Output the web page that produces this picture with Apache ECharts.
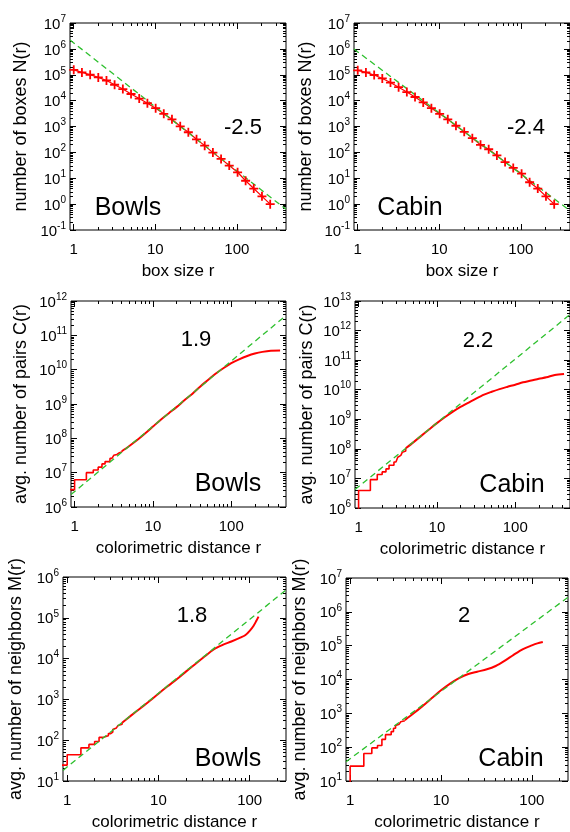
<!DOCTYPE html>
<html>
<head>
<meta charset="utf-8">
<script src="https://cdn.jsdelivr.net/npm/echarts@6/dist/echarts.min.js"></script>
<style>
  html, body { margin: 0; padding: 0; background: #fff; }
  #chart { width: 570px; height: 832px; }
</style>
</head>
<body>
<div id="chart"></div>
<script>
// ---- top row: box counting, box sizes r = 2^(k/3) ----
const boxSize = [1, 1.26, 1.59, 2, 2.52, 3.17, 4, 5.04, 6.35, 8, 10.1, 12.7, 16, 20.2, 25.4, 32, 40.3, 50.8, 64, 80.6, 102, 128, 161, 203, 256];
const boxesBowls = [155000, 123000, 100000, 79000, 60000, 41000, 28000, 18000, 12000, 7900, 5100, 3100, 1900, 1020, 600, 320, 182, 98, 56, 31, 17, 8, 4, 2, 1];
const boxesCabin = [148000, 123000, 98000, 72000, 50000, 33000, 21400, 13800, 8500, 5100, 3100, 1900, 1070, 620, 355, 195, 132, 76, 42, 25, 15, 7, 4, 2, 1];
const boxFitR = [0.9, 400];
const boxFitBowls = [2.2e6, 0.63];
const boxFitCabin = [9.8e5, 0.56];

// ---- small distances: counts jump at r = sqrt(n); first entry is r = 0, drawn off-axis ----
const stepR = [0.5, 1, 1.414, 1.732, 2, 2.236, 2.449, 2.828, 3, 3.162, 3.317, 3.464, 3.606, 3.742, 4];

// ---- middle row: pair correlation C(r) ----
const pairR = [4, 5, 6.3, 8, 10, 12.6, 16, 20, 25, 32, 40, 50, 63, 80, 100, 126, 160, 200, 250, 320, 420];
const pairStepBowls = [3.2e6, 6.2e6, 1.0e7, 1.2e7, 1.45e7, 1.8e7, 2.1e7, 2.6e7, 2.9e7, 3.2e7, 3.4e7, 3.6e7, 3.8e7, 4.0e7, 4.2e7];
const pairBowls = [4.2e7, 6.0e7, 8.9e7, 1.4e8, 2.2e8, 3.5e8, 5.4e8, 8.1e8, 1.26e9, 2.0e9, 3.2e9, 4.9e9, 7.6e9, 1.12e10, 1.55e10, 2.0e10, 2.5e10, 2.95e10, 3.3e10, 3.55e10, 3.6e10];
const pairStepCabin = [5e5, 3.9e6, 9.1e6, 1.35e7, 1.66e7, 2.1e7, 2.8e7, 3.6e7, 4.2e7, 5.2e7, 6.0e7, 6.9e7, 7.6e7, 8.5e7, 1.05e8];
const pairCabin = [1.05e8, 1.66e8, 2.75e8, 4.6e8, 7.4e8, 1.17e9, 1.82e9, 2.63e9, 3.6e9, 5.1e9, 6.8e9, 8.5e9, 1.05e10, 1.26e10, 1.48e10, 1.78e10, 2.04e10, 2.34e10, 2.63e10, 3.16e10, 3.4e10];
const pairFitR = [0.9, 500];
const pairFitBowls = [2.3e6, 3.8e11];
const pairFitCabin = [4.2e6, 3.5e12];

// ---- bottom row: neighbours M(r) ----
const nbrStepBowls = [24.5, 44, 65, 79, 93, 117, 129, 145, 158, 182, 200, 214, 229, 245, 269];
const nbrRBowls = [4, 5, 6.3, 8, 10, 12.6, 16, 20, 25, 32, 40, 50, 63, 80, 90, 100, 110, 118, 125];
const nbrBowls = [269, 400, 600, 910, 1380, 2090, 3160, 4800, 7200, 11200, 16600, 21400, 26300, 33100, 38000, 47900, 63100, 83200, 107000];
const nbrStepCabin = [3, 27.5, 65, 95, 112, 170, 234, 288, 363, 437, 479, 525, 562, 603, 631];
const nbrRCabin = [4, 5, 6.3, 8, 10, 12.6, 16, 20, 25, 32, 40, 50, 63, 80, 100, 115, 132];
const nbrCabin = [631, 1000, 1660, 2880, 4790, 7590, 11200, 14500, 17000, 20000, 25100, 35500, 53700, 79400, 102000, 117000, 129000];
const nbrFitR = [0.9, 250];
const nbrFitBowls = [18.2, 4.8e5];
const nbrFitCabin = [37, 2.7e6];

const FONT = '"Liberation Sans", Arial, Helvetica, sans-serif';
const RED = '#ff0000';
const GREEN = '#2ec02e';
const PLUS = 'path://M4,0h2v4h4v2h-4v4h-2v-4h-4v-2h4z';

const lg = Math.log10;
const pts = (xs, ys) => xs.map((x, i) => [lg(x), lg(ys[i])]);

function decades(a, b) {
  const out = [];
  for (let e = a; e <= b; e++) out.push(e);
  return out;
}
// log positions of 2..9 x 10^e that fall inside [lo, hi]
function minors(lo, hi) {
  const out = [];
  for (let e = Math.floor(lo); e < Math.ceil(hi); e++) {
    for (let m = 2; m <= 9; m++) {
      const v = e + lg(m);
      if (v > lo && v < hi) out.push(v);
    }
  }
  return out;
}

const panels = [
  {
    grid: { left: 70, top: 23, width: 216, height: 207 },
    xRange: [0.9, 400], yDec: [-1, 7], xName: 'box size r', yName: 'number of boxes N(r)', yGap: 40,
    marked: pts(boxSize, boxesBowls), fit: pts(boxFitR, boxFitBowls),
    texts: [['Bowls', 128, 208, 25], ['-2.5', 243, 128, 22]]
  },
  {
    grid: { left: 354, top: 23, width: 216, height: 207 },
    xRange: [0.9, 400], yDec: [-1, 7], xName: 'box size r', yName: 'number of boxes N(r)', yGap: 39,
    marked: pts(boxSize, boxesCabin), fit: pts(boxFitR, boxFitCabin),
    texts: [['Cabin', 410, 208, 25], ['-2.4', 526, 128, 22]]
  },
  {
    grid: { left: 71, top: 301, width: 215, height: 206 },
    xRange: [0.9, 500], yDec: [6, 12], xName: 'colorimetric distance r', yName: 'avg. number of pairs C(r)', yGap: 41,
    steps: pts(stepR, pairStepBowls), curve: pts(pairR, pairBowls), fit: pts(pairFitR, pairFitBowls),
    texts: [['1.9', 196, 340, 22], ['Bowls', 228, 484, 25]]
  },
  {
    grid: { left: 355, top: 301, width: 215, height: 207 },
    xRange: [0.9, 500], yDec: [6, 13], xName: 'colorimetric distance r', yName: 'avg. number of pairs C(r)', yGap: 39,
    steps: pts(stepR, pairStepCabin), curve: pts(pairR, pairCabin), fit: pts(pairFitR, pairFitCabin),
    texts: [['2.2', 478, 341, 22], ['Cabin', 512, 485, 25]]
  },
  {
    grid: { left: 63, top: 577, width: 223, height: 206 },
    xRange: [0.9, 250], yDec: [1, 6], xName: 'colorimetric distance r', yName: 'avg. number of neighbors M(r)', yGap: 38,
    steps: pts(stepR, nbrStepBowls), curve: pts(nbrRBowls, nbrBowls), fit: pts(nbrFitR, nbrFitBowls),
    texts: [['1.8', 192, 616, 22], ['Bowls', 228, 759, 25]]
  },
  {
    grid: { left: 346, top: 578, width: 222, height: 205 },
    xRange: [0.9, 250], yDec: [1, 7], xName: 'colorimetric distance r', yName: 'avg. number of neighbors M(r)', yGap: 37,
    steps: pts(stepR, nbrStepCabin), curve: pts(nbrRCabin, nbrCabin), fit: pts(nbrFitR, nbrFitCabin),
    texts: [['2', 464, 616, 22], ['Cabin', 511, 759, 25]]
  }
];

const option = {
  animation: false,
  backgroundColor: '#fff',
  grid: [], xAxis: [], yAxis: [], series: [], graphic: []
};

const tickStyle = { color: '#000', width: 1 };

panels.forEach((p, i) => {
  option.grid.push(Object.assign({ show: true, borderColor: '#000', borderWidth: 1, backgroundColor: 'transparent' }, p.grid));

  const xMin = lg(p.xRange[0]), xMax = lg(p.xRange[1]);
  const xMajor = decades(Math.ceil(xMin), Math.floor(xMax));
  const xMinor = minors(xMin, xMax);
  const yMajor = decades(p.yDec[0], p.yDec[1]);
  const yMinor = minors(p.yDec[0], p.yDec[1]);
  const xi = option.xAxis.length;
  const yi = option.yAxis.length;

  // x: bottom major (labels + name), bottom minor, top major, top minor
  [['bottom', xMajor, 6], ['bottom', xMinor, 3], ['top', xMajor, 6], ['top', xMinor, 3]].forEach(([pos, ticks, len], k) => {
    const ax = {
      gridIndex: i, type: 'value', position: pos, min: xMin, max: xMax,
      axisLine: { show: false, onZero: false }, splitLine: { show: false },
      axisTick: { inside: true, length: len, customValues: ticks, lineStyle: tickStyle },
      axisLabel: { show: false }
    };
    if (k === 0) {
      ax.axisLabel = {
        show: true, customValues: xMajor, margin: 12,
        fontSize: 15, fontFamily: FONT, color: '#000',
        formatter: v => String(Math.round(Math.pow(10, v)))
      };
      ax.name = p.xName;
      ax.nameLocation = 'middle';
      ax.nameGap = 33;
      ax.nameTextStyle = { fontSize: 17, fontFamily: FONT, color: '#000' };
    }
    option.xAxis.push(ax);
  });

  // y: left major (labels + name), left minor, right major, right minor
  [['left', yMajor, 6], ['left', yMinor, 3], ['right', yMajor, 6], ['right', yMinor, 3]].forEach(([pos, ticks, len], k) => {
    const ax = {
      gridIndex: i, type: 'value', position: pos, min: p.yDec[0], max: p.yDec[1],
      axisLine: { show: false, onZero: false }, splitLine: { show: false },
      axisTick: { inside: true, length: len, customValues: ticks, lineStyle: tickStyle },
      axisLabel: { show: false }
    };
    if (k === 0) {
      ax.axisLabel = {
        show: true, customValues: yMajor, margin: 4,
        formatter: v => '{b|10}{s|' + Math.round(v) + '}',
        rich: {
          b: { fontSize: 15, lineHeight: 18, verticalAlign: 'bottom', fontFamily: FONT, color: '#000' },
          s: { fontSize: 10, lineHeight: 6, verticalAlign: 'top', fontFamily: FONT, color: '#000' }
        }
      };
      ax.name = p.yName;
      ax.nameLocation = 'middle';
      ax.nameGap = p.yGap;
      ax.nameTextStyle = { fontSize: 18, fontFamily: FONT, color: '#000' };
    }
    option.yAxis.push(ax);
  });

  if (p.marked) {
    option.series.push({
      type: 'line', xAxisIndex: xi, yAxisIndex: yi, data: p.marked,
      symbol: PLUS, symbolSize: 9, showSymbol: true,
      lineStyle: { color: RED, width: 1.2 }, itemStyle: { color: RED }
    });
  }
  if (p.steps) {
    option.series.push({
      type: 'line', xAxisIndex: xi, yAxisIndex: yi, data: p.steps, step: 'end',
      symbol: 'none', lineStyle: { color: RED, width: 1.6 }
    });
  }
  if (p.curve) {
    option.series.push({
      type: 'line', xAxisIndex: xi, yAxisIndex: yi, data: p.curve, smooth: 0.3,
      symbol: 'none', lineStyle: { color: RED, width: 2 }
    });
  }
  option.series.push({
    type: 'line', xAxisIndex: xi, yAxisIndex: yi, data: p.fit,
    symbol: 'none', lineStyle: { color: GREEN, width: 1.3, type: [6, 4] }
  });

  p.texts.forEach(([text, x, y, size]) => {
    option.graphic.push({
      type: 'text', x: x, y: y, z: 10,
      style: {
        text: text, fill: '#000', font: size + 'px ' + FONT,
        align: 'center', verticalAlign: 'middle',
        textAlign: 'center', textVerticalAlign: 'middle'
      }
    });
  });
});

const chart = echarts.init(document.getElementById('chart'), null, { renderer: 'canvas' });
chart.setOption(option);
</script>
</body>
</html>
